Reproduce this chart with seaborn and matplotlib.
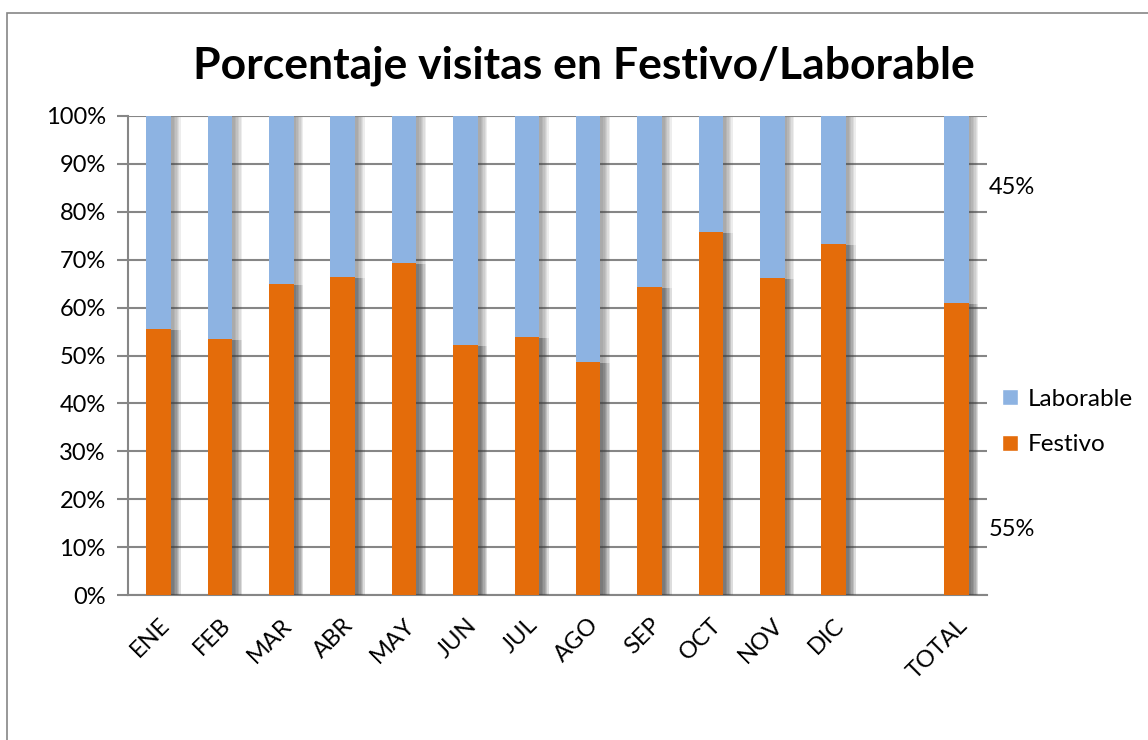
import pandas as pd
import seaborn as sns
import matplotlib.pyplot as plt
import matplotlib.patheffects as pe
from matplotlib.patches import Rectangle, Patch

# -------------------------------
# Data
# -------------------------------
categories = ["ENE", "FEB", "MAR", "ABR", "MAY", "JUN", "JUL", "AGO",
              "SEP", "OCT", "NOV", "DIC", " ", "TOTAL"]
festivo = [55.5, 53.4, 64.9, 66.4, 69.3, 52.2, 53.9, 48.6,
           64.3, 75.8, 66.2, 73.3, None, 61.0]
laborable = [None if f is None else 100 - f for f in festivo]
ytick_labels = [f"{v}%" for v in range(0, 101, 10)]
side_labels = ["45%", "55%"]

df = pd.DataFrame({"Mes": categories, "Festivo": festivo, "Laborable": laborable})
df["Total"] = df["Festivo"] + df["Laborable"]

orange = "#E46C0A"
blue = "#8DB3E2"
grey = "#868686"

# -------------------------------
# Plot
# -------------------------------
sns.set_style("white")
plt.rcParams['font.family'] = ['Lato', 'DejaVu Sans']
plt.rcParams['text.color'] = 'black'
plt.rcParams['xtick.color'] = 'black'
plt.rcParams['ytick.color'] = 'black'

fig = plt.figure(figsize=(11.48, 7.40), dpi=100)
ax = fig.add_axes([128 / 1148, 145 / 740, (987 - 128) / 1148, (595 - 116) / 740])

# soft shadow on the right of each bar
shadow = [pe.SimplePatchShadow(offset=(d, -0.5), shadow_rgbFace="#404040", alpha=0.09)
          for d in (7, 6, 5, 4, 3, 2)] + [pe.Normal()]

sns.barplot(data=df, x="Mes", y="Total", order=categories, color=blue,
            width=0.4, saturation=1, ax=ax, zorder=3)
sns.barplot(data=df, x="Mes", y="Festivo", order=categories, color=orange,
            width=0.4, saturation=1, ax=ax, zorder=4)
for p in ax.patches:
    p.set_path_effects(shadow)
    p.set_linewidth(0)

ax.set_xlim(-0.5, len(categories) - 0.5)
ax.set_ylim(0, 100)
ax.set_yticks(range(0, 101, 10))
ax.set_yticklabels(ytick_labels, fontsize=17)
ax.set_xlabel("")
ax.set_ylabel("")

ax.set_xticks(range(len(categories)))
ax.set_xticklabels(categories, rotation=45, ha="right", rotation_mode="anchor",
                   fontsize=17)
ax.set_xticks([i - 0.5 for i in range(len(categories) + 1)], minor=True)
ax.tick_params(axis="x", which="major", length=0, pad=14)
ax.tick_params(axis="x", which="minor", length=8, color=grey, width=1.5)
ax.tick_params(axis="y", length=8, color=grey, width=1.5, left=True, pad=8)

ax.grid(axis="y", color=grey, linewidth=1.5, zorder=0)
ax.set_axisbelow(True)
for side in ["top", "right"]:
    ax.spines[side].set_visible(False)
for side in ["left", "bottom"]:
    ax.spines[side].set_color(grey)
    ax.spines[side].set_linewidth(1.5)

# title
fig.text(584 / 1148, 1 - 66 / 740, "Porcentaje visitas en Festivo/Laborable",
         ha="center", va="center", fontsize=32, fontweight="bold")

# side percentages
fig.text(989 / 1148, 1 - 188 / 740, side_labels[0], ha="left", va="center", fontsize=17)
fig.text(989 / 1148, 1 - 530 / 740, side_labels[1], ha="left", va="center", fontsize=17)

# legend
handles = [Patch(facecolor=blue, label="Laborable"), Patch(facecolor=orange, label="Festivo")]
fig.legend(handles=handles, loc="center left", bbox_to_anchor=(985 / 1148, 1 - 422 / 740),
           frameon=False, fontsize=17.5, handlelength=0.65, handleheight=0.65,
           handletextpad=0.4, labelspacing=1.0, borderpad=0.2)

# outer border of the chart area
fig.patches.append(Rectangle((7 / 1148, -0.1), 1.2, 1 - 13 / 740 + 0.1,
                             transform=fig.transFigure, fill=False,
                             edgecolor=grey, linewidth=1.2))

fig.savefig("out.png", dpi=100)
